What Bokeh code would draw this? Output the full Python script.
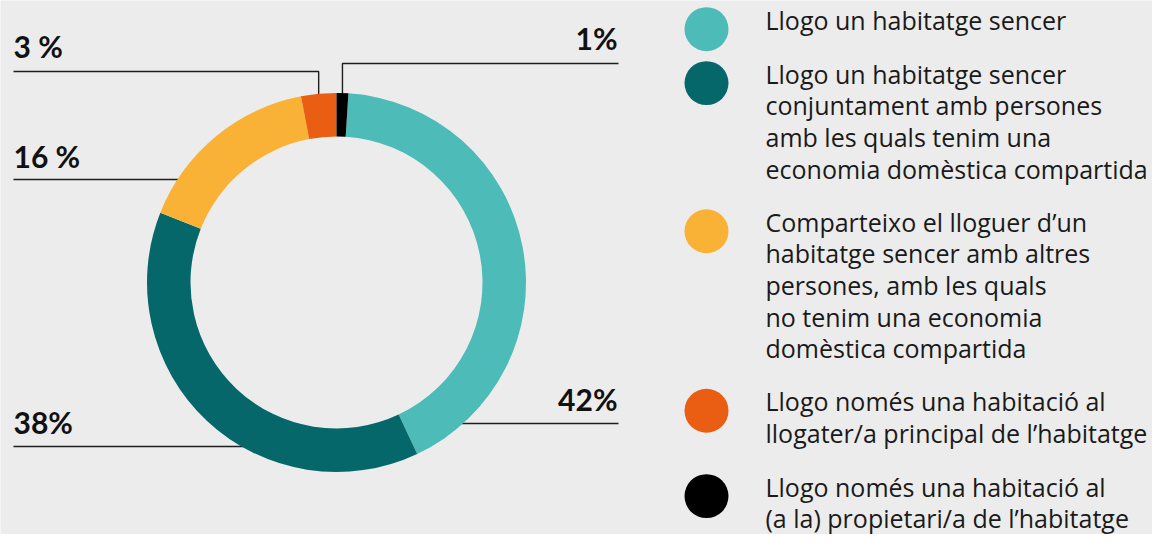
import numpy as np
from bokeh.plotting import figure
from bokeh.models import Range1d
from bokeh.core.properties import value
from bokeh.embed import file_html
from bokeh.resources import INLINE

# ---------------- data ----------------
categories = [
    "Llogo un habitatge sencer",
    "Llogo un habitatge sencer\nconjuntament amb persones\namb les quals tenim una\neconomia domèstica compartida",
    "Comparteixo el lloguer d’un\nhabitatge sencer amb altres\npersones, amb les quals\nno tenim una economia\ndomèstica compartida",
    "Llogo només una habitació al\nllogater/a principal de l’habitatge",
    "Llogo només una habitació al\n(a la) propietari/a de l’habitatge",
]
values = [42, 38, 16, 3, 1]
value_labels = ["42%", "38%", "16 %", "3 %", "1%"]
colors = ["#4dbbb8", "#05676a", "#f9b236", "#e95e13", "#000000"]

# ---------------- layout (pixel coords, y from top) ----------------
W, H = 1152, 534
def X(rx): return rx
def Y(ry): return H - ry

CX, CY = 336, 282
R_OUT, R_IN = 189.5, 146
R_MID = (R_OUT + R_IN) / 2

# label anchor (x, baseline y, align), leader line y, leader kind
label_pos = [(617, 410, "right"), (13, 433, "left"), (13, 167, "left"), (13, 57, "left"), (617, 49, "right")]
leader_y = [423, 446, 179, 71, 63]
leader_kind = ["h", "h", "h", "elbow", "elbow"]
leader_end_x = [618, 13, 13, 13, 618]
PCT_SIZE = 30

# legend, compressed slightly to fit the canvas
LEG_K = 0.981
def LY(ry): return 11 + (ry - 18) * LEG_K
legend_y = [36, 91, 242, 425, 512]
LEG_CX, LEG_R, LEG_TX, LEG_LH = 706, 22, 765, 32.3 * LEG_K
LEG_SIZE = 25
MID = 0.38  # em offset from baseline to text middle

BG = "#ececec"
p = figure(width=W, height=H, x_range=Range1d(0, W), y_range=Range1d(0, H),
           output_backend="svg", toolbar_location=None, min_border=0,
           background_fill_color=BG, border_fill_color=BG, outline_line_color=None)
p.axis.visible = False
p.grid.visible = False

total = float(sum(values))
fracs = np.array(values) / total
offset = fracs[-1]
f0 = offset + np.concatenate([[0], np.cumsum(fracs)[:-1]])
f1 = f0 + fracs
mid = (f0 + f1) / 2

# leader lines
xs, ys = [], []
for i in range(len(values)):
    ly = leader_y[i]
    lx_end = leader_end_x[i]
    if leader_kind[i] == "h":
        dy = ly - CY
        dx = np.sqrt(max(R_MID**2 - dy**2, 0))
        side = 1 if lx_end > CX else -1
        rx = CX + side * dx
        xs.append([X(lx_end), X(rx)])
        ys.append([Y(ly), Y(ly)])
    else:
        th = 2 * np.pi * mid[i]
        vx = CX + R_OUT * np.sin(th)
        vy = CY - R_MID * np.cos(th)
        xs.append([X(lx_end), X(vx), X(vx)])
        ys.append([Y(ly), Y(ly), Y(vy)])
p.multi_line(xs, ys, line_color="#1e1e1e", line_width=1.4)

# donut
p.annular_wedge(x=X(CX), y=Y(CY), inner_radius=R_IN, outer_radius=R_OUT,
                start_angle=np.pi / 2 - 2 * np.pi * f0, end_angle=np.pi / 2 - 2 * np.pi * f1,
                direction="clock", fill_color=colors, line_color=None)

# value labels
for i, lab in enumerate(value_labels):
    lx, ly, al = label_pos[i]
    p.text(x=[X(lx)], y=[Y(ly - MID * PCT_SIZE)], text=[lab], text_align=al, text_baseline="middle",
           text_font=value("Lato"), text_font_style="bold", text_font_size=f"{PCT_SIZE}px",
           text_color="#111111")

# legend
p.scatter(x=[X(LEG_CX)] * len(colors), y=[Y(LY(v)) for v in legend_y], size=2 * LEG_R,
          marker="circle", fill_color=colors, line_color=None)
tx, ty, tt = [], [], []
for i, cat in enumerate(categories):
    for k, line in enumerate(cat.split("\n")):
        tx.append(X(LEG_TX))
        ty.append(Y(LY(legend_y[i]) + k * LEG_LH - MID * LEG_SIZE))
        tt.append(line)
p.text(x=tx, y=ty, text=tt, text_align="left", text_baseline="middle",
       text_font=value("Open Sans"), text_font_size=f"{LEG_SIZE}px", text_color="#1a1a1a")

open("out.html", "w").write(file_html(p, INLINE))
